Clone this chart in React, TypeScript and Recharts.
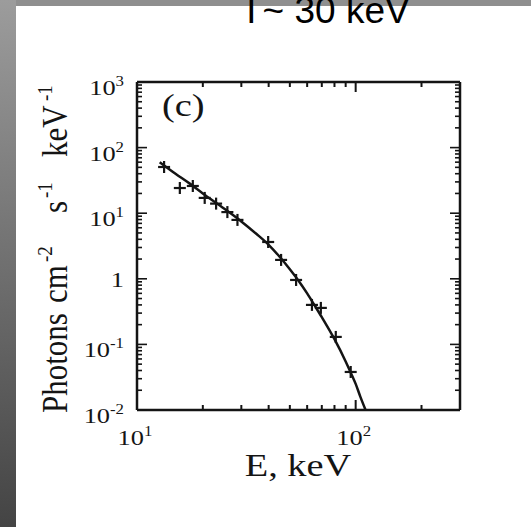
import React from "react";
import { ComposedChart, Line, Scatter, XAxis, YAxis } from "recharts";

// ---- data ----
const curveEnergy = [12.7, 15, 17.5, 20, 25, 30, 35, 40, 45, 50, 55, 60, 65, 70, 80, 90, 95, 100, 105, 111];
const curveFlux = [60, 40, 28, 20, 11.8, 7.5, 4.9, 3.3, 2.15, 1.4, 0.92, 0.6, 0.39, 0.26, 0.12, 0.055, 0.037, 0.025, 0.016, 0.01];

const pointEnergy = [13.3, 15.7, 18.0, 20.4, 23.0, 25.9, 28.8, 39.8, 45.6, 53.4, 63.1, 69.3, 81.1, 94.9];
const pointFlux = [50.6, 24.2, 26, 17.1, 14, 10.4, 7.9, 3.64, 1.94, 0.96, 0.4, 0.36, 0.13, 0.038];

const xTicks = [10, 20, 30, 40, 50, 60, 70, 80, 90, 100, 200];
const xMajorTicks = [10, 100];
const xTickLabels = [
  { base: "10", exp: "1" },
  { base: "10", exp: "2" },
];
const yMajorTicks = [0.01, 0.1, 1, 10, 100, 1000];
const yTickLabels = [
  { base: "10", exp: "-2" },
  { base: "10", exp: "-1" },
  { base: "1", exp: "" },
  { base: "10", exp: "1" },
  { base: "10", exp: "2" },
  { base: "10", exp: "3" },
];
const yMinorMultipliers = [2, 3, 4, 5, 6, 7, 8, 9];

const title = "T~ 30 keV";
const xLabel = "E, keV";
const panelLabel = "(c)";

const curve = curveEnergy.map((e, i) => ({ e, v: curveFlux[i] }));
const points = pointEnergy.map((e, i) => ({ e, v: pointFlux[i] }));
const yTicks: number[] = [];
yMajorTicks.forEach((m, i) => {
  yTicks.push(m);
  if (i < yMajorTicks.length - 1) yMinorMultipliers.forEach((k) => yTicks.push(+(m * k).toPrecision(3)));
});

const SERIF = "'Liberation Serif', 'Times New Roman', serif";
const INK = "#141414";

const near = (a: number, b: number) => Math.abs(a - b) / b < 1e-6;

function Label10({ x, y, base, exp, anchor }: any) {
  return (
    <text
      transform={`translate(${x},${y}) scale(1.2,1)`}
      textAnchor={anchor}
      fontFamily={SERIF}
      fontSize={22}
      fill={INK}
    >
      <tspan>{base}</tspan>
      {exp ? (
        <tspan dy={-9} fontSize={14}>
          {exp}
        </tspan>
      ) : null}
    </text>
  );
}

function BottomTick(props: any) {
  const { x, y, payload } = props;
  const v = payload.value;
  const mi = xMajorTicks.findIndex((m) => near(v, m));
  const len = mi >= 0 ? 10 : 5;
  return (
    <g>
      <line x1={x} x2={x} y1={y} y2={y - len} stroke={INK} strokeWidth={2} />
      {mi >= 0 ? <Label10 x={x - 2} y={y + 35} base={xTickLabels[mi].base} exp={xTickLabels[mi].exp} anchor="middle" /> : null}
    </g>
  );
}

function TopTick(props: any) {
  const { x, y, payload } = props;
  const v = payload.value;
  const len = xMajorTicks.some((m) => near(v, m)) ? 10 : 5;
  return <line x1={x} x2={x} y1={y} y2={y + len} stroke={INK} strokeWidth={2} />;
}

function LeftTick(props: any) {
  const { x, y, payload } = props;
  const v = payload.value;
  const mi = yMajorTicks.findIndex((m) => near(v, m));
  const len = mi >= 0 ? 10 : 5;
  const lab = mi >= 0 ? yTickLabels[mi] : null;
  return (
    <g>
      <line x1={x} x2={x + len} y1={y} y2={y} stroke={INK} strokeWidth={1.6} />
      {lab ? (
        <Label10 x={x - 13} y={y + (lab.exp ? 13 : 8)} base={lab.base} exp={lab.exp} anchor="end" />
      ) : null}
    </g>
  );
}

function RightTick(props: any) {
  const { x, y, payload } = props;
  const v = payload.value;
  const len = yMajorTicks.some((m) => near(v, m)) ? 10 : 5;
  return <line x1={x} x2={x - len} y1={y} y2={y} stroke={INK} strokeWidth={1.6} />;
}

function Cross(props: any) {
  const { cx, cy } = props;
  if (cx == null || cy == null) return null;
  return (
    <g>
      <line x1={cx - 6} x2={cx + 6} y1={cy} y2={cy} stroke={INK} strokeWidth={2.2} />
      <line x1={cx} x2={cx} y1={cy - 6} y2={cy + 6} stroke={INK} strokeWidth={2.2} />
    </g>
  );
}

function YTitle() {
  return (
    <text
      transform="translate(67,413) scale(1.15,1) rotate(-90)"
      fontFamily={SERIF}
      fontSize={31}
      fill={INK}
    >
      <tspan x={0} y={0}>Photons</tspan>
      <tspan x={110} y={0}>cm</tspan>
      <tspan x={151} y={-13} fontSize={19}>-2</tspan>
      <tspan x={200} y={0}>s</tspan>
      <tspan x={215} y={-13} fontSize={19}>-1</tspan>
      <tspan x={256} y={0}>keV</tspan>
      <tspan x={312} y={-13} fontSize={19}>-1</tspan>
    </text>
  );
}

export default function App() {
  return (
    <div style={{ position: "absolute", left: 0, top: 0, width: 531, height: 527, background: "#ffffff", overflow: "hidden" }}>
      <div style={{ position: "absolute", left: 0, top: 0, width: 531, height: 6, background: "#8f8f8f" }} />
      <div
        style={{
          position: "absolute",
          left: 0,
          top: 0,
          width: 16,
          height: 527,
          background: "linear-gradient(to bottom, #9c9c9c, #444444)",
        }}
      />
      <div style={{ position: "absolute", left: 0, top: 0 }}>
        <ComposedChart width={531} height={527} margin={{ top: 81, right: 70, bottom: 116, left: 97 }}>
          <XAxis
            xAxisId="b"
            dataKey="e"
            type="number"
            scale="log"
            domain={[10, 300]}
            allowDataOverflow
            ticks={xTicks}
            interval={0}
            orientation="bottom"
            height={1}
            tickSize={0}
            tickMargin={0}
            tick={<BottomTick />}
            axisLine={{ stroke: INK, strokeWidth: 2.5 }}
          />
          <XAxis
            xAxisId="t"
            dataKey="e"
            type="number"
            scale="log"
            domain={[10, 300]}
            allowDataOverflow
            ticks={xTicks}
            interval={0}
            orientation="top"
            height={1}
            tickSize={0}
            tickMargin={0}
            tick={<TopTick />}
            axisLine={{ stroke: INK, strokeWidth: 2.5 }}
          />
          <YAxis
            yAxisId="l"
            dataKey="v"
            type="number"
            scale="log"
            domain={[0.01, 1000]}
            allowDataOverflow
            ticks={yTicks}
            interval={0}
            orientation="left"
            width={40}
            tickSize={0}
            tickMargin={0}
            tick={<LeftTick />}
            axisLine={{ stroke: INK, strokeWidth: 2.5 }}
            label={<YTitle />}
          />
          <YAxis
            yAxisId="r"
            dataKey="v"
            type="number"
            scale="log"
            domain={[0.01, 1000]}
            allowDataOverflow
            ticks={yTicks}
            interval={0}
            orientation="right"
            width={1}
            tickSize={0}
            tickMargin={0}
            tick={<RightTick />}
            axisLine={{ stroke: INK, strokeWidth: 2.5 }}
          />
          <Line
            xAxisId="b"
            yAxisId="l"
            data={curve}
            dataKey="v"
            type="monotone"
            stroke={INK}
            strokeWidth={2.5}
            dot={false}
            isAnimationActive={false}
          />
          <Scatter
            xAxisId="b"
            yAxisId="l"
            data={points}
            dataKey="v"
            shape={<Cross />}
            isAnimationActive={false}
          />
        </ComposedChart>
      </div>
      <svg style={{ position: "absolute", left: 0, top: 0 }} width={531} height={527} pointerEvents="none">
        <text
          transform="translate(162,116) scale(1.2,1)"
          fontFamily={SERIF}
          fontSize={32}
          fill={INK}
        >
          {panelLabel}
        </text>
        <text
          transform="translate(298,476) scale(1.2,1)"
          textAnchor="middle"
          fontFamily={SERIF}
          fontSize={32}
          fill={INK}
        >
          {xLabel}
        </text>
      </svg>
      <div
        style={{
          position: "absolute",
          left: 240,
          top: 25 - 37 * 0.905,
          fontFamily: "'Liberation Sans', Arial, sans-serif",
          fontSize: 37,
          lineHeight: "37px",
          color: "#000",
          whiteSpace: "nowrap",
        }}
      >
        {title}
      </div>
    </div>
  );
}
